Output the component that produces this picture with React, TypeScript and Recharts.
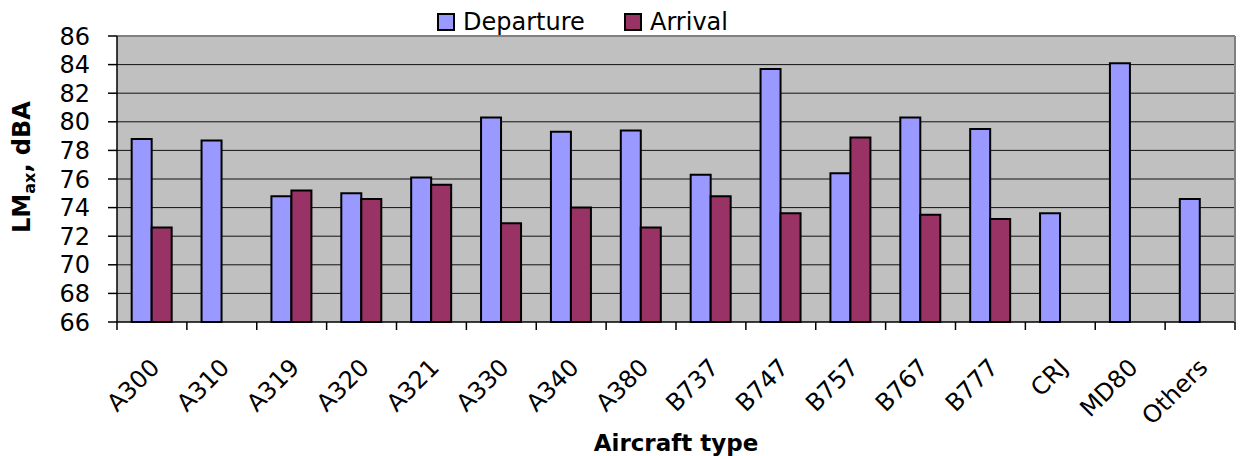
import { Bar, BarChart, CartesianGrid, Legend, ReferenceLine, XAxis, YAxis } from "recharts";

// Aircraft types and measured LMax (dBA) for departures / arrivals
const aircraft = [
  "A300", "A310", "A319", "A320", "A321", "A330", "A340", "A380",
  "B737", "B747", "B757", "B767", "B777", "CRJ", "MD80", "Others",
];
const departure = [78.8, 78.7, 74.8, 75.0, 76.1, 80.3, 79.3, 79.4, 76.3, 83.7, 76.4, 80.3, 79.5, 73.6, 84.1, 74.6];
const arrival = [72.6, null, 75.2, 74.6, 75.6, 72.9, 74.0, 72.6, 74.8, 73.6, 78.9, 73.5, 73.2, null, null, null];
const yTicks = [66, 68, 70, 72, 74, 76, 78, 80, 82, 84, 86];
const gridValues = [68, 70, 72, 74, 76, 78, 80, 82, 84];

const W = 1242;
const H = 456;
const LEFT = 117;
const RIGHT = 1235;
const TOP = 36;
const BOTTOM = 322;
const CAT_W = (RIGHT - LEFT) / aircraft.length;

const FONT = "'DejaVu Sans', 'Liberation Sans', Arial, sans-serif";
const DEP = "#9999ff";
const ARR = "#993366";

const rows = aircraft.map((name, i) => ({ name, departure: departure[i], arrival: arrival[i] }));

function AircraftTick(props: any) {
  const { x, payload, index } = props;
  const half = CAT_W / 2;
  return (
    <g>
      <line x1={x - half} x2={x - half} y1={BOTTOM} y2={BOTTOM + 8} stroke="#000" strokeWidth={1.5} />
      {index === aircraft.length - 1 && (
        <line x1={x + half} x2={x + half} y1={BOTTOM} y2={BOTTOM + 8} stroke="#000" strokeWidth={1.5} />
      )}
      <text
        transform={`translate(${x + 9},${BOTTOM + 47}) rotate(-45)`}
        textAnchor="end"
        fontFamily={FONT}
        fontSize={24}
        fill="#000"
      >
        {payload.value}
      </text>
    </g>
  );
}

function YLabel(props: any) {
  const vb = props.viewBox ?? { x: 0, y: TOP, height: BOTTOM - TOP };
  const cx = vb.x + 30;
  const cy = vb.y + vb.height / 2 - 12;
  return (
    <text
      transform={`translate(${cx},${cy}) rotate(-90)`}
      textAnchor="middle"
      fontFamily={FONT}
      fontWeight="bold"
      fontSize={24}
      fill="#000"
    >
      LM
      <tspan fontSize={16} dy={5}>ax</tspan>
      <tspan dy={-5}>, dBA</tspan>
    </text>
  );
}

function XLabel(props: any) {
  const vb = props.viewBox ?? { x: LEFT, y: BOTTOM, width: RIGHT - LEFT };
  return (
    <text
      x={vb.x + vb.width / 2}
      y={H - 5}
      textAnchor="middle"
      fontFamily={FONT}
      fontWeight="bold"
      fontSize={23}
      fill="#000"
    >
      Aircraft type
    </text>
  );
}

function LegendBox() {
  const item = (label: string, color: string, left: number) => (
    <div style={{ position: "absolute", left, top: 12, display: "flex", alignItems: "center" }}>
      <span
        style={{
          width: 14,
          height: 14,
          background: color,
          border: "2px solid #000",
          marginRight: 8,
          display: "inline-block",
        }}
      />
      <span style={{ fontFamily: FONT, fontSize: 24, lineHeight: "20px", color: "#000" }}>{label}</span>
    </div>
  );
  return (
    <div style={{ position: "relative", width: W, height: TOP }}>
      {item("Departure", DEP, 437)}
      {item("Arrival", ARR, 624)}
    </div>
  );
}

export default function App() {
  return (
    <div style={{ position: "absolute", left: 0, top: 0, width: W, height: H, background: "#fff" }}>
      <BarChart
        width={W}
        height={H}
        data={rows}
        margin={{ top: 0, right: 0, bottom: 0, left: 0 }}
        barCategoryGap="21%"
        barGap={0}
      >
        <Legend
          verticalAlign="top"
          align="left"
          wrapperStyle={{ left: 0, top: 0 }}
          content={() => <LegendBox />}
        />
        <CartesianGrid
          vertical={false}
          horizontalValues={gridValues}
          stroke="#111"
          strokeWidth={1}
          fill="#c0c0c0"
          fillOpacity={1}
        />
        <XAxis
          dataKey="name"
          interval={0}
          height={H - BOTTOM}
          tickLine={false}
          tickSize={8}
          tickMargin={0}
          axisLine={{ stroke: "#000", strokeWidth: 1.5 }}
          tick={<AircraftTick />}
          label={<XLabel />}
        />
        <YAxis
          width={LEFT}
          domain={[66, 86]}
          ticks={yTicks}
          interval={0}
          tickSize={9}
          tickMargin={18}
          axisLine={{ stroke: "#000", strokeWidth: 1.5 }}
          tickLine={{ stroke: "#000", strokeWidth: 1.5 }}
          tick={{ fontFamily: FONT, fontSize: 24, fill: "#000" }}
          label={<YLabel />}
        />
        <YAxis
          yAxisId="frame"
          orientation="right"
          width={W - RIGHT}
          domain={[66, 86]}
          tick={false}
          tickLine={false}
          axisLine={{ stroke: "#808080", strokeWidth: 2 }}
        />
        <ReferenceLine y={86} stroke="#808080" strokeWidth={2} />
        <Bar dataKey="departure" name="Departure" fill={DEP} stroke="#000" strokeWidth={2} isAnimationActive={false} />
        <Bar dataKey="arrival" name="Arrival" fill={ARR} stroke="#000" strokeWidth={2} isAnimationActive={false} />
      </BarChart>
    </div>
  );
}
